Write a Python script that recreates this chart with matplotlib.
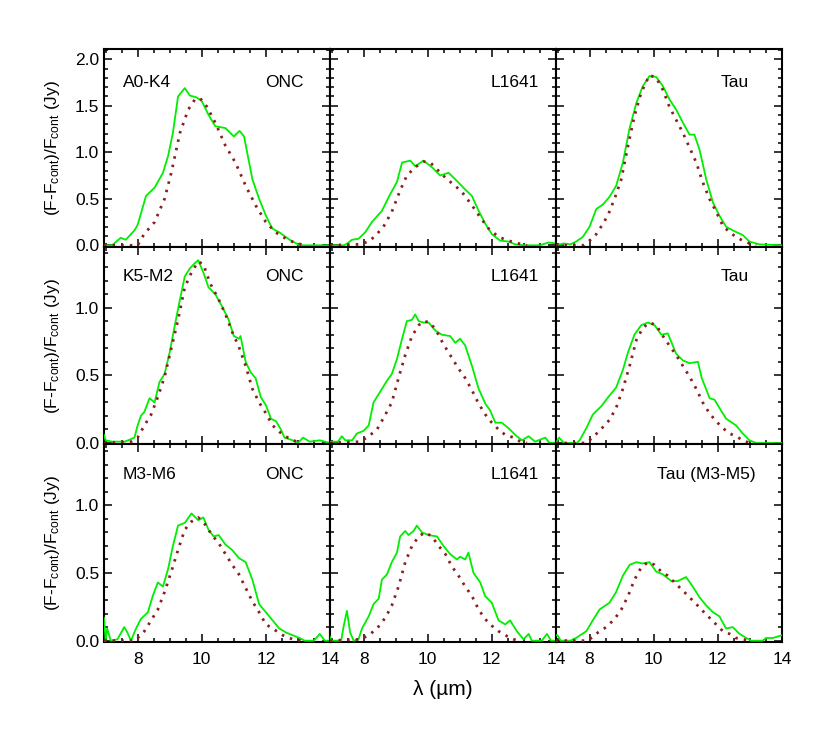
import matplotlib
matplotlib.use('Agg')
import matplotlib.pyplot as plt
from matplotlib.ticker import MultipleLocator

plt.rcParams['font.family'] = ['Liberation Sans', 'DejaVu Sans']
plt.rcParams['mathtext.fontset'] = 'custom'
plt.rcParams['mathtext.rm'] = 'Liberation Sans'
plt.rcParams['mathtext.it'] = 'Liberation Sans:italic'

# ---- data read off the figure: observed (green) and model (dotted) ----
# row 1: A0-K4
onc1_obs_x = [6.95, 7.2, 7.47, 7.63, 7.9, 8.0, 8.26, 8.53, 8.79, 8.95, 9.1, 9.26, 9.47, 9.63, 9.84, 10.0, 10.2, 10.42,
              10.74, 11.0, 11.18, 11.32, 11.58, 11.79, 12.0, 12.2, 12.42, 12.74, 13.05, 13.6, 14.0]
onc1_obs_y = [0.0, 0.0, 0.08, 0.06, 0.16, 0.22, 0.53, 0.62, 0.78, 0.96, 1.21, 1.6, 1.69, 1.61, 1.59, 1.55, 1.41, 1.28,
              1.26, 1.17, 1.23, 1.17, 0.71, 0.5, 0.32, 0.18, 0.14, 0.06, 0.0, 0.0, 0.0]
onc1_mod_x = [6.95, 7.9, 8.0, 8.2, 8.53, 8.84, 9.05, 9.32, 9.58, 9.79, 9.95, 10.16, 10.42, 10.74, 11.05, 11.37, 11.68,
              12.0, 12.3, 12.63, 12.95, 13.3]
onc1_mod_y = [0.0, 0.0, 0.0, 0.12, 0.25, 0.5, 0.78, 1.21, 1.46, 1.57, 1.58, 1.49, 1.32, 1.07, 0.89, 0.64, 0.43,
              0.25, 0.14, 0.07, 0.02, 0.0]

l16411_obs_x = [6.95, 7.4, 7.53, 7.64, 7.84, 8.05, 8.26, 8.57, 8.83, 9.04, 9.2, 9.46, 9.61, 9.87, 10.13, 10.39, 10.65,
                10.86, 11.17, 11.38, 11.59, 11.8, 12.0, 12.26, 12.52, 12.73, 13.0, 13.5, 13.77, 14.0]
l16411_obs_y = [0.0, 0.0, 0.03, 0.06, 0.07, 0.14, 0.25, 0.37, 0.55, 0.68, 0.89, 0.91, 0.85, 0.91, 0.84, 0.75, 0.78,
                0.71, 0.6, 0.53, 0.37, 0.23, 0.12, 0.05, 0.04, 0.01, 0.0, 0.0, 0.03, 0.02]
l16411_mod_x = [6.95, 7.84, 8.16, 8.36, 8.62, 8.88, 9.14, 9.35, 9.61, 9.87, 10.08, 10.34, 10.6, 10.86, 11.12, 11.38,
                11.64, 11.9, 12.21, 12.52, 12.83, 13.1]
l16411_mod_y = [0.0, 0.01, 0.04, 0.1, 0.2, 0.36, 0.59, 0.75, 0.84, 0.9, 0.89, 0.8, 0.71, 0.64, 0.55, 0.43,
                0.3, 0.18, 0.09, 0.05, 0.02, 0.0]

tau1_obs_x = [6.95, 7.2, 7.4, 7.58, 7.79, 8.0, 8.21, 8.42, 8.62, 8.83, 9.04, 9.25, 9.46, 9.66, 9.87, 10.08, 10.29,
              10.49, 10.7, 10.91, 11.12, 11.27, 11.43, 11.64, 11.85, 12.05, 12.26, 12.47, 12.78, 12.99, 13.3, 14.0]
tau1_obs_y = [0.0, 0.02, 0.01, 0.04, 0.09, 0.2, 0.39, 0.44, 0.52, 0.64, 0.89, 1.26, 1.53, 1.71, 1.82, 1.81, 1.71,
              1.57, 1.46, 1.32, 1.19, 1.19, 1.03, 0.71, 0.46, 0.32, 0.2, 0.16, 0.11, 0.04, 0.01, 0.0]
tau1_mod_x = [6.95, 7.8, 8.0, 8.21, 8.36, 8.57, 8.78, 8.99, 9.2, 9.4, 9.61, 9.87, 10.08, 10.29, 10.49, 10.7, 10.91,
              11.12, 11.33, 11.53, 11.74, 11.95, 12.16, 12.37, 12.57, 12.78, 12.99, 13.2]
tau1_mod_y = [0.0, 0.0, 0.05, 0.12, 0.2, 0.32, 0.5, 0.71, 1.07, 1.39, 1.64, 1.83, 1.8, 1.67, 1.49, 1.35, 1.21,
              1.05, 0.89, 0.68, 0.5, 0.36, 0.21, 0.14, 0.09, 0.05, 0.02, 0.0]

# row 2: K5-M2
onc2_obs_x = [6.95, 7.0, 7.2, 7.6, 7.9, 8.0, 8.1, 8.21, 8.37, 8.53, 8.68, 8.84, 9.0, 9.16, 9.32, 9.47, 9.63, 9.79,
              9.89, 10.05, 10.21, 10.42, 10.63, 10.84, 11.0, 11.16, 11.21, 11.37, 11.53, 11.68, 11.84, 12.0, 12.16,
              12.32, 12.47, 12.58, 12.84, 13.0, 13.16, 13.37, 13.68, 14.0]
onc2_obs_y = [0.06, 0.02, 0.01, 0.01, 0.04, 0.13, 0.2, 0.23, 0.33, 0.3, 0.45, 0.51, 0.67, 0.87, 1.06, 1.23, 1.29, 1.33,
              1.35, 1.26, 1.15, 1.1, 1.01, 0.91, 0.79, 0.77, 0.79, 0.6, 0.52, 0.48, 0.34, 0.28, 0.18,
              0.16, 0.1, 0.04, 0.02, 0.0, 0.04, 0.01, 0.02, 0.0]
onc2_mod_x = [6.95, 7.8, 8.0, 8.21, 8.42, 8.63, 8.84, 9.05, 9.26, 9.47, 9.68, 9.89, 10.05, 10.26, 10.53, 10.74, 10.95,
              11.16, 11.37, 11.58, 11.79, 12.0, 12.21, 12.53, 12.84, 13.1]
onc2_mod_y = [0.0, 0.01, 0.04, 0.13, 0.21, 0.34, 0.49, 0.7, 0.91, 1.15, 1.26, 1.34, 1.32, 1.18, 1.06, 0.95, 0.82,
              0.71, 0.57, 0.4, 0.3, 0.22, 0.13, 0.06, 0.02, 0.0]

l16412_obs_x = [6.95, 7.2, 7.32, 7.43, 7.64, 7.79, 8.0, 8.16, 8.31, 8.52, 8.73, 8.88, 9.04, 9.2, 9.35, 9.51, 9.61,
                9.72, 9.87, 10.03, 10.24, 10.44, 10.7, 10.86, 11.01, 11.17, 11.38, 11.59, 11.8, 11.95, 12.11, 12.31,
                12.52, 12.73, 12.94, 13.15, 13.35, 13.67, 13.8, 14.0]
l16412_obs_y = [0.01, 0.01, 0.05, 0.02, 0.02, 0.07, 0.09, 0.13, 0.3, 0.38, 0.46, 0.51, 0.62, 0.77, 0.9, 0.91, 0.95,
                0.9, 0.89, 0.89, 0.83, 0.8, 0.79, 0.74, 0.77, 0.72, 0.57, 0.4, 0.29, 0.24, 0.15, 0.15,
                0.11, 0.06, 0.02, 0.05, 0.01, 0.04, 0.0, 0.0]
l16412_mod_x = [6.95, 7.9, 8.16, 8.42, 8.68, 8.88, 9.09, 9.3, 9.51, 9.72, 9.87, 10.08, 10.29, 10.49, 10.7, 10.96,
                11.17, 11.38, 11.59, 11.8, 12.0, 12.21, 12.42, 12.68, 12.89, 13.1]
l16412_mod_y = [0.0, 0.01, 0.05, 0.1, 0.21, 0.3, 0.48, 0.65, 0.79, 0.87, 0.9, 0.89, 0.82, 0.73, 0.65, 0.55,
                0.48, 0.39, 0.29, 0.21, 0.15, 0.1, 0.06, 0.04, 0.01, 0.0]

tau2_obs_x = [6.95, 7.05, 7.2, 7.6, 7.69, 7.9, 8.1, 8.36, 8.62, 8.83, 9.04, 9.2, 9.4, 9.61, 9.82, 10.03, 10.24, 10.44,
              10.7, 10.91, 11.12, 11.38, 11.5, 11.75, 11.9, 12.05, 12.26, 12.57, 12.78, 12.99, 13.2, 14.0]
tau2_obs_y = [0.0, 0.04, 0.0, 0.0, 0.02, 0.11, 0.21, 0.27, 0.35, 0.41, 0.54, 0.67, 0.8, 0.87, 0.89, 0.87, 0.8, 0.81,
              0.66, 0.61, 0.59, 0.6, 0.48, 0.33, 0.32, 0.26, 0.18, 0.13, 0.07, 0.02, 0.0, 0.0]
tau2_mod_x = [6.95, 7.9, 8.0, 8.31, 8.62, 8.83, 9.04, 9.25, 9.46, 9.66, 9.87, 10.08, 10.29, 10.49, 10.7, 10.91, 11.12,
              11.33, 11.53, 11.74, 11.95, 12.16, 12.37, 12.57, 12.78, 13.0]
tau2_mod_y = [0.0, 0.0, 0.02, 0.09, 0.17, 0.26, 0.4, 0.57, 0.76, 0.85, 0.89, 0.87, 0.79, 0.72, 0.65, 0.57, 0.49,
              0.4, 0.3, 0.22, 0.16, 0.11, 0.07, 0.05, 0.02, 0.0]

# row 3: M3-M6
onc3_obs_x = [6.95, 7.0, 7.05, 7.16, 7.37, 7.58, 7.68, 7.79, 7.95, 8.1, 8.32, 8.47, 8.63, 8.79, 8.95, 9.1, 9.26, 9.47,
              9.68, 9.89, 10.05, 10.21, 10.37, 10.53, 10.74, 10.95, 11.16, 11.37, 11.58, 11.79, 12.0, 12.21, 12.42,
              12.63, 12.84, 13.05, 13.21, 13.5, 13.68, 13.84, 14.0]
onc3_obs_y = [0.17, 0.0, 0.09, 0.0, 0.01, 0.1, 0.06, 0.0, 0.09, 0.16, 0.21, 0.33, 0.43, 0.4, 0.53, 0.7, 0.85, 0.87,
              0.94, 0.89, 0.91, 0.82, 0.77, 0.78, 0.71, 0.67, 0.61, 0.58, 0.45, 0.27, 0.21, 0.15, 0.09,
              0.06, 0.04, 0.02, 0.0, 0.0, 0.05, 0.0, 0.0]
onc3_mod_x = [6.95, 7.9, 8.0, 8.21, 8.42, 8.63, 8.84, 9.05, 9.26, 9.47, 9.68, 9.89, 10.1, 10.32, 10.53, 10.74, 10.95,
              11.16, 11.37, 11.58, 11.79, 12.0, 12.21, 12.53, 12.84, 13.1]
onc3_mod_y = [0.0, 0.0, 0.02, 0.07, 0.15, 0.23, 0.36, 0.51, 0.67, 0.82, 0.88, 0.91, 0.86, 0.78, 0.72, 0.64, 0.56,
              0.49, 0.39, 0.29, 0.21, 0.12, 0.09, 0.04, 0.01, 0.0]

l16413_obs_x = [6.95, 7.0, 7.1, 7.3, 7.38, 7.48, 7.58, 7.69, 7.84, 7.95, 8.16, 8.31, 8.47, 8.57, 8.73, 8.88, 9.04,
                9.14, 9.3, 9.4, 9.56, 9.66, 9.82, 10.03, 10.29, 10.49, 10.7, 10.91, 11.01, 11.17, 11.27, 11.43,
                11.64, 11.79, 12.0, 12.21, 12.42, 12.57, 12.78, 12.99, 13.15, 13.25, 13.56, 13.72, 13.85, 14.0]
l16413_obs_y = [0.03, 0.0, 0.0, 0.0, 0.11, 0.22, 0.06, 0.0, 0.01, 0.09, 0.18, 0.27, 0.31, 0.45, 0.49, 0.58, 0.65,
                0.77, 0.81, 0.78, 0.81, 0.85, 0.8, 0.78, 0.77, 0.7, 0.64, 0.6, 0.62, 0.6, 0.65, 0.5,
                0.43, 0.33, 0.28, 0.15, 0.12, 0.15, 0.07, 0.01, 0.05, 0.0, 0.0, 0.05, 0.0, 0.0]
l16413_mod_x = [6.95, 7.9, 8.16, 8.42, 8.68, 8.88, 9.09, 9.3, 9.51, 9.72, 9.92, 10.13, 10.34, 10.55, 10.75, 10.96,
                11.17, 11.38, 11.59, 11.79, 12.0, 12.21, 12.42, 12.68, 12.9]
l16413_mod_y = [0.0, 0.01, 0.04, 0.09, 0.17, 0.26, 0.4, 0.58, 0.7, 0.77, 0.8, 0.77, 0.7, 0.64, 0.55, 0.48,
                0.4, 0.33, 0.23, 0.16, 0.11, 0.07, 0.04, 0.01, 0.0]

tau3_obs_x = [6.95, 7.0, 7.1, 7.4, 7.58, 7.9, 8.1, 8.31, 8.62, 8.83, 9.04, 9.25, 9.46, 9.66, 9.87, 10.08, 10.29, 10.55,
              10.75, 11.01, 11.22, 11.43, 11.64, 11.85, 12.05, 12.26, 12.47, 12.68, 12.89, 13.04, 13.4, 13.51, 13.72,
              14.0]
tau3_obs_y = [0.04, 0.04, 0.0, 0.0, 0.02, 0.07, 0.15, 0.23, 0.28, 0.36, 0.48, 0.56, 0.58, 0.57, 0.58, 0.51, 0.49, 0.44,
              0.44, 0.47, 0.4, 0.32, 0.26, 0.21, 0.18, 0.09, 0.1, 0.05, 0.02, 0.0, 0.0, 0.02, 0.02,
              0.04]
tau3_mod_x = [6.95, 7.9, 8.0, 8.26, 8.52, 8.78, 8.99, 9.2, 9.4, 9.61, 9.82, 10.03, 10.24, 10.44, 10.65, 10.91, 11.12,
              11.33, 11.53, 11.74, 11.95, 12.16, 12.37, 12.57, 12.78, 12.99]
tau3_mod_y = [0.0, 0.0, 0.01, 0.06, 0.1, 0.16, 0.23, 0.33, 0.45, 0.54, 0.58, 0.56, 0.51, 0.48, 0.43, 0.37, 0.32,
              0.27, 0.22, 0.17, 0.12, 0.07, 0.05, 0.02, 0.01, 0.0]

spt_labels = ['A0-K4', 'K5-M2', 'M3-M6']
region_labels = [['ONC', 'L1641', 'Tau'],
                 ['ONC', 'L1641', 'Tau'],
                 ['ONC', 'L1641', 'Tau (M3-M5)']]

panels = [
    [(onc1_obs_x, onc1_obs_y, onc1_mod_x, onc1_mod_y),
     (l16411_obs_x, l16411_obs_y, l16411_mod_x, l16411_mod_y),
     (tau1_obs_x, tau1_obs_y, tau1_mod_x, tau1_mod_y)],
    [(onc2_obs_x, onc2_obs_y, onc2_mod_x, onc2_mod_y),
     (l16412_obs_x, l16412_obs_y, l16412_mod_x, l16412_mod_y),
     (tau2_obs_x, tau2_obs_y, tau2_mod_x, tau2_mod_y)],
    [(onc3_obs_x, onc3_obs_y, onc3_mod_x, onc3_mod_y),
     (l16413_obs_x, l16413_obs_y, l16413_mod_x, l16413_mod_y),
     (tau3_obs_x, tau3_obs_y, tau3_mod_x, tau3_mod_y)],
]

# ---- figure ----
fig, axes = plt.subplots(3, 3, figsize=(8.3, 7.34), dpi=100, sharex=True, sharey='row')
fig.subplots_adjust(left=0.1253, right=0.942, top=0.9332, bottom=0.1253, hspace=0, wspace=0)

green = '#00ee00'
brown = '#8b1e1e'
region_xpos = [[0.883, 0.924, 0.854], [0.883, 0.924, 0.854], [0.883, 0.924, 0.883]]
text_ypos = [0.83, 0.85, 0.85]

for r in range(3):
    for c in range(3):
        ax = axes[r, c]
        ox, oy, mx, my = panels[r][c]
        ax.plot(ox, oy, color=green, lw=1.3, zorder=3)
        ax.plot(mx, my, color=brown, lw=2.0, ls=(0, (0.9, 2.2)), zorder=4)

        ax.set_xlim(6.95, 14.0)
        ax.xaxis.set_major_locator(MultipleLocator(2))
        ax.xaxis.set_minor_locator(MultipleLocator(0.5))
        ax.yaxis.set_major_locator(MultipleLocator(0.5))
        ax.yaxis.set_minor_locator(MultipleLocator(0.1))
        ax.tick_params(which='both', direction='in', top=True, right=True, width=1.1, labelsize=12.5)
        ax.tick_params(which='major', length=6)
        ax.tick_params(which='minor', length=3)
        ax.tick_params(axis='x', pad=7)
        for sp in ax.spines.values():
            sp.set_linewidth(1.5)

        if c == 0:
            ax.text(0.084, text_ypos[r], spt_labels[r], transform=ax.transAxes,
                    ha='left', va='center', fontsize=12.5)
        ax.text(region_xpos[r][c], text_ypos[r], region_labels[r][c], transform=ax.transAxes,
                ha='right', va='center', fontsize=12.5)

    axes[r, 0].set_ylabel('(F-F$_{\\rm cont}$)/F$_{\\rm cont}$ (Jy)', fontsize=12.5, labelpad=9)
    axes[r, 0].yaxis.set_major_formatter(plt.FormatStrFormatter('%.1f'))

axes[0, 0].set_ylim(-0.015, 2.11)
axes[1, 0].set_ylim(-0.01, 1.45)
axes[2, 0].set_ylim(-0.01, 1.45)

fig.text(0.534, 0.06, 'λ (µm)', ha='center', va='center', fontsize=15)

fig.savefig('out.png', dpi=100)
